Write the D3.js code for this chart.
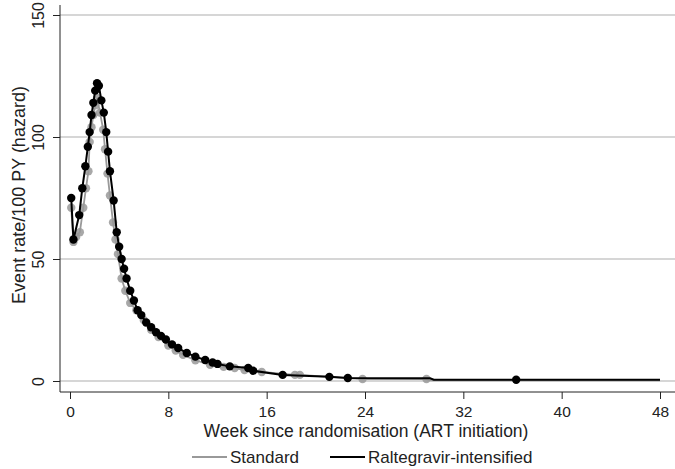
<!DOCTYPE html>
<head>
	<meta charset="UTF-8">
	<script src="https://d3js.org/d3.v7.min.js"></script>
	<style>
		body { margin: 0; background: #fff; }
		text { font-family: "Liberation Sans", Arial, sans-serif; fill: #222; }
	</style>
</head>
<body>
	<div id="chart"></div>
<script>

// Standard arm: week, hazard, event marker (1) or line-only point (0)
const stdWeeks = [0.1, 0.28, 0.5, 0.8, 1.08, 1.3, 1.5, 1.6, 1.75, 1.9, 2.05, 2.2, 2.44, 2.7, 2.85, 3.05, 3.25, 3.5, 3.7, 3.9, 4.2, 4.5, 4.9, 5.4, 6.0, 6.6, 7.2, 8.0, 8.6, 9.2, 10.2, 11.4, 12.5, 13.4, 14.2, 15.6, 18.3, 18.7, 23.8, 29.0, 29.3, 48];
const stdRates = [71, 57, 59, 61, 71, 79, 86, 98, 104, 109, 113, 116, 110, 103, 95, 85, 76, 65, 58, 52, 42, 37, 32, 29, 25, 21, 18, 14.5, 12.5, 10.7, 8.5, 6.6, 5.8, 5.3, 4.5, 3.7, 2.5, 2.5, 0.8, 0.8, 0.3, 0.3];
const stdMark  = [1, 1, 1, 1, 1, 1, 1, 1, 1, 1, 1, 1, 1, 1, 1, 1, 1, 1, 1, 1, 1, 1, 1, 1, 1, 1, 1, 1, 1, 1, 1, 1, 1, 1, 1, 1, 1, 1, 1, 1, 0, 0];

// Raltegravir-intensified arm
const ralWeeks = [0.1, 0.28, 0.75, 1.0, 1.25, 1.45, 1.6, 1.75, 1.9, 2.05, 2.2, 2.35, 2.55, 2.75, 2.95, 3.1, 3.25, 3.55, 3.8, 4.0, 4.2, 4.4, 4.6, 4.9, 5.2, 5.5, 5.8, 6.2, 6.6, 7.0, 7.4, 7.8, 8.3, 8.8, 9.5, 10.2, 11.0, 11.6, 12.0, 13.0, 14.5, 14.9, 17.3, 21.1, 22.6, 29.3, 29.6, 36.3, 48];
const ralRates = [75, 58, 68, 79, 88, 96, 102, 109, 114, 119, 122, 121, 115, 110, 102, 94, 86, 74, 61, 55, 50, 46, 42, 37, 33, 29, 27, 24, 22, 20, 18.5, 17, 15, 13.5, 11.5, 10, 8.6, 7.6, 7.0, 6.0, 5.3, 4.2, 2.5, 1.7, 1.2, 1.1, 0.5, 0.5, 0.5];
const ralMark  = [1, 1, 1, 1, 1, 1, 1, 1, 1, 1, 1, 1, 1, 1, 1, 1, 1, 1, 1, 1, 1, 1, 1, 1, 1, 1, 1, 1, 1, 1, 1, 1, 1, 1, 1, 1, 1, 1, 1, 1, 1, 1, 1, 1, 1, 0, 0, 1, 0];

const xTicks = [0, 8, 16, 24, 32, 40, 48];
const yTicks = [0, 50, 100, 150];

const seriesNames = ["Standard", "Raltegravir-intensified"];
const seriesColors = ["#999999", "#000000"];

const width = 675, height = 469;

const x = d3.scaleLinear().domain([0, 48]).range([70, 660]);
const y = d3.scaleLinear().domain([0, 150]).range([381, 15]);

const svg = d3.select("#chart").append("svg")
	.attr("width", width)
	.attr("height", height);

// gridlines
svg.append("g")
	.selectAll("line")
	.data(yTicks)
	.join("line")
	.attr("x1", 60).attr("x2", width)
	.attr("y1", d => y(d)).attr("y2", d => y(d))
	.attr("stroke", "#c8c8c8")
	.attr("stroke-width", 1.5);

// y axis, labels rotated like the original
const yAxis = svg.append("g")
	.attr("transform", "translate(60,0)")
	.call(d3.axisLeft(y).tickValues(yTicks).tickSize(7));
yAxis.select(".domain").attr("d", "M0,5V392").attr("stroke", "#222");
yAxis.selectAll(".tick line").attr("stroke", "#222");
yAxis.selectAll(".tick text")
	.attr("font-size", 16)
	.attr("transform", "rotate(-90)")
	.attr("text-anchor", "middle")
	.attr("x", 0)
	.attr("y", -16.5)
	.attr("dy", 0);

// x axis
const xAxis = svg.append("g")
	.attr("transform", "translate(0,392)")
	.call(d3.axisBottom(x).tickValues(xTicks).tickSize(7));
xAxis.select(".domain").attr("d", `M60,0H${width}`).attr("stroke", "#222");
xAxis.selectAll(".tick line").attr("stroke", "#222");
xAxis.selectAll(".tick text")
	.attr("font-size", 15.5)
	.attr("y", 25)
	.attr("dy", 0);

// axis titles
svg.append("text")
	.attr("x", 366).attr("y", 437)
	.attr("text-anchor", "middle")
	.attr("font-size", 17.5)
	.text("Week since randomisation (ART initiation)");

svg.append("text")
	.attr("transform", "translate(24.5,195) rotate(-90)")
	.attr("text-anchor", "middle")
	.attr("font-size", 18)
	.text("Event rate/100 PY (hazard)");

// series
const series = [
	{ weeks: stdWeeks, rates: stdRates, mark: stdMark, width: 1.8, r: 4.2 },
	{ weeks: ralWeeks, rates: ralRates, mark: ralMark, width: 2, r: 4.2 }
];

const line = d3.line().x(d => x(d.w)).y(d => y(d.v));

series.forEach((s, i) => {
	const pts = s.weeks.map((w, j) => ({ w: w, v: s.rates[j], m: s.mark[j] }));
	svg.append("path")
		.datum(pts)
		.attr("fill", "none")
		.attr("stroke", seriesColors[i])
		.attr("stroke-width", s.width)
		.attr("d", line);
	svg.append("g")
		.selectAll("circle")
		.data(pts.filter(d => d.m))
		.join("circle")
		.attr("cx", d => x(d.w))
		.attr("cy", d => y(d.v))
		.attr("r", s.r)
		.attr("fill", seriesColors[i])
		.attr("fill-opacity", i === 0 ? 0.85 : 1);
});

// legend
const legendX = [192, 330];
const legend = svg.append("g")
	.selectAll("g")
	.data(seriesNames)
	.join("g")
	.attr("transform", (d, i) => `translate(${legendX[i]},457)`);
legend.append("line")
	.attr("x1", 0).attr("x2", 35)
	.attr("y1", 0).attr("y2", 0)
	.attr("stroke", (d, i) => seriesColors[i])
	.attr("stroke-width", 2);
legend.append("text")
	.attr("x", 38).attr("y", 6)
	.attr("font-size", 17)
	.text(d => d);

</script>
</body>
</html>
